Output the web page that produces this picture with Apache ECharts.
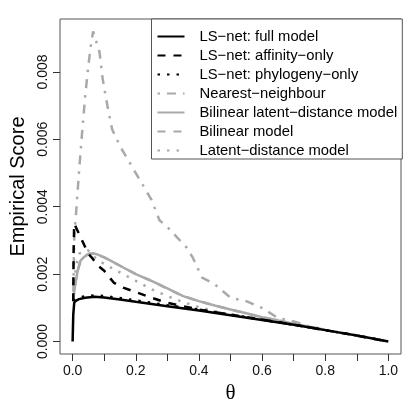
<!DOCTYPE html>
<html><head><meta charset="utf-8">
<script src="https://cdn.jsdelivr.net/npm/echarts@6/dist/echarts.min.js"></script>
<style>html,body{margin:0;padding:0;background:#fff}#c{width:415px;height:415px}</style>
</head><body><div id="c"></div>
<script>
// ---- data ----
const seriesNames = ["LS\u2212net: full model","LS\u2212net: affinity\u2212only","LS\u2212net: phylogeny\u2212only","Nearest\u2212neighbour","Bilinear latent\u2212distance model","Bilinear model","Latent\u2212distance model"];
const xTickValues = [0,0.1,0.2,0.3,0.4,0.5,0.6,0.7,0.8,0.9,1.0];
const xLabelValues = [0,0.2,0.4,0.6,0.8,1.0];
const yTickValues = [0,0.002,0.004,0.006,0.008];

const thetaFull = [0,0.002,0.005,0.01,0.02,0.04,0.07,0.1,0.15,0.2,0.3,0.4,0.5,0.6,0.7,0.8,0.9,1.0];
const fullModel = [0,0.0008,0.00115,0.00121,0.00126,0.0013,0.00133,0.00131,0.00125,0.00118,0.00105,0.00092,0.00078,0.00064,0.0005,0.00034,0.00018,0];

const thetaAff = [0.002,0.003,0.005,0.01,0.02,0.03,0.04,0.05,0.06,0.08,0.1,0.13,0.16,0.2,0.25,0.3,0.35,0.4,0.5,0.6,0.7,0.8,0.9,1.0];
const affinityOnly = [0.0012,0.0026,0.0035,0.0034,0.0032,0.0030,0.0028,0.0026,0.0025,0.00225,0.0021,0.00175,0.0016,0.00147,0.0013,0.00115,0.00105,0.00095,0.0008,0.00065,0.0005,0.00034,0.00018,0];

const thetaPhy = [0.003,0.005,0.01,0.02,0.04,0.07,0.1,0.15,0.2,0.3,0.4,0.5,0.6,0.7,0.8,0.9,1.0];
const phylogenyOnly = [0.0012,0.00122,0.00127,0.00131,0.00134,0.00137,0.00135,0.00129,0.00122,0.00108,0.00095,0.0008,0.00065,0.0005,0.00034,0.00018,0];

const thetaNN = [0.002,0.005,0.01,0.02,0.03,0.04,0.05,0.058,0.065,0.075,0.08,0.085,0.095,0.11,0.125,0.14,0.15,0.175,0.2,0.225,0.25,0.275,0.3,0.33,0.36,0.38,0.41,0.45,0.5,0.55,0.6,0.65,0.7,0.75,0.78];
const nearestNeighbour = [0.0012,0.0031,0.0037,0.0050,0.0062,0.0073,0.0082,0.0088,0.0092,0.0089,0.0087,0.0086,0.0078,0.0070,0.0063,0.0060,0.0058,0.0054,0.0050,0.0046,0.0042,0.0036,0.0034,0.0031,0.0028,0.0025,0.0019,0.0017,0.0013,0.0012,0.0010,0.0007,0.0006,0.00045,0.0004];

const thetaBLD = [0.002,0.005,0.01,0.016,0.025,0.035,0.05,0.065,0.08,0.1,0.12,0.15,0.2,0.25,0.3,0.35,0.4,0.45,0.5,0.55,0.6,0.65,0.7,0.75,0.8];
const bilinearLatentDistance = [0.0012,0.0015,0.0018,0.0021,0.0024,0.0025,0.0026,0.00262,0.00258,0.0025,0.0024,0.00225,0.002,0.0018,0.00158,0.00135,0.0012,0.00107,0.00095,0.00084,0.00072,0.00063,0.00053,0.00044,0.00035];

const thetaBil = [0.002,0.005,0.01,0.016,0.025,0.035,0.05,0.065,0.08,0.1,0.12,0.15,0.2,0.25,0.3,0.35,0.4,0.45,0.5,0.55,0.6,0.65,0.7,0.75,0.8];
const bilinear = [0.0012,0.0015,0.0018,0.0021,0.0024,0.0025,0.0026,0.00261,0.00257,0.0025,0.0024,0.00225,0.002,0.0018,0.00157,0.00135,0.0012,0.00107,0.00095,0.00084,0.00072,0.00063,0.00053,0.00044,0.00035];

const thetaLD = [0.002,0.01,0.02,0.035,0.05,0.07,0.1,0.15,0.2,0.25,0.3,0.35,0.4,0.45,0.5,0.6,0.7,0.8];
const latentDistance = [0.0012,0.0022,0.0026,0.0027,0.0027,0.0025,0.0023,0.00205,0.0018,0.00155,0.00135,0.00117,0.00102,0.0009,0.0008,0.00065,0.0005,0.00034];

// ---- chart ----
const zip = (xs, ys) => xs.map((x, i) => [x, ys[i]]);
const BLACK = '#000', GRAY = '#A9A9A9';
const LW = 2.5;
const SOLID = 'solid', DASH = [8, 8], DOT = [2.5, 7], DOTDASH = [2.5, 7, 9, 7];
const FONT = 'Liberation Sans';

function mk(name, xs, ys, color, type, z) {
  return {
    name: name, type: 'line', data: zip(xs, ys), symbol: 'none', z: z,
    lineStyle: { color: color, width: LW, type: type, cap: 'butt' },
    itemStyle: { color: color }, silent: true, animation: false
  };
}

const chart = echarts.init(document.getElementById('c'), null, { renderer: 'canvas' });
chart.setOption({
  animation: false,
  backgroundColor: '#fff',
  textStyle: { fontFamily: FONT },
  grid: { left: 60, top: 19, right: 14, bottom: 61, show: true, borderColor: '#555', borderWidth: 1, backgroundColor: 'transparent' },
  legend: {
    orient: 'vertical', left: 151.5, top: 19,
    padding: [10, 5, 1, 5],
    itemWidth: 27, itemHeight: 14, itemGap: 4,
    itemStyle: { opacity: 0, borderWidth: 0 },
    backgroundColor: '#fff', borderColor: '#555', borderWidth: 1, borderRadius: 0,
    textStyle: { fontFamily: FONT, fontSize: 14.8, color: '#000', lineHeight: 14, padding: [0, 0, 0, 10] },
    data: seriesNames, selectedMode: false
  },
  xAxis: {
    type: 'value', min: -0.04, max: 1.04,
    name: '\u03b8', nameLocation: 'middle', nameGap: 27,
    nameTextStyle: { fontFamily: 'Liberation Serif', fontSize: 21, color: '#000' },
    axisLine: { show: false, onZero: false },
    splitLine: { show: false },
    axisTick: { show: true, length: 7, customValues: xTickValues, lineStyle: { color: '#333', width: 1 } },
    axisLabel: { customValues: xLabelValues, formatter: v => v.toFixed(1), fontSize: 14, color: '#111', margin: 10, fontFamily: FONT }
  },
  yAxis: {
    type: 'value', min: -0.000368, max: 0.009568,
    name: 'Empirical Score', nameLocation: 'middle', nameGap: 29,
    nameTextStyle: { fontFamily: FONT, fontSize: 20, color: '#000' },
    axisLine: { show: false, onZero: false },
    splitLine: { show: false },
    axisTick: { show: true, length: 7, customValues: yTickValues, lineStyle: { color: '#333', width: 1 } },
    axisLabel: { customValues: yTickValues, formatter: v => v.toFixed(3), rotate: 90, fontSize: 14, color: '#111', margin: 10, fontFamily: FONT }
  },
  series: [
    mk(seriesNames[0], thetaFull, fullModel, BLACK, SOLID, 6),
    mk(seriesNames[1], thetaAff, affinityOnly, BLACK, DASH, 5),
    mk(seriesNames[2], thetaPhy, phylogenyOnly, BLACK, DOT, 5),
    mk(seriesNames[3], thetaNN, nearestNeighbour, GRAY, DOTDASH, 2),
    mk(seriesNames[4], thetaBLD, bilinearLatentDistance, GRAY, SOLID, 3),
    mk(seriesNames[5], thetaBil, bilinear, GRAY, DASH, 2),
    mk(seriesNames[6], thetaLD, latentDistance, GRAY, DOT, 2)
  ]
});
</script></body></html>
